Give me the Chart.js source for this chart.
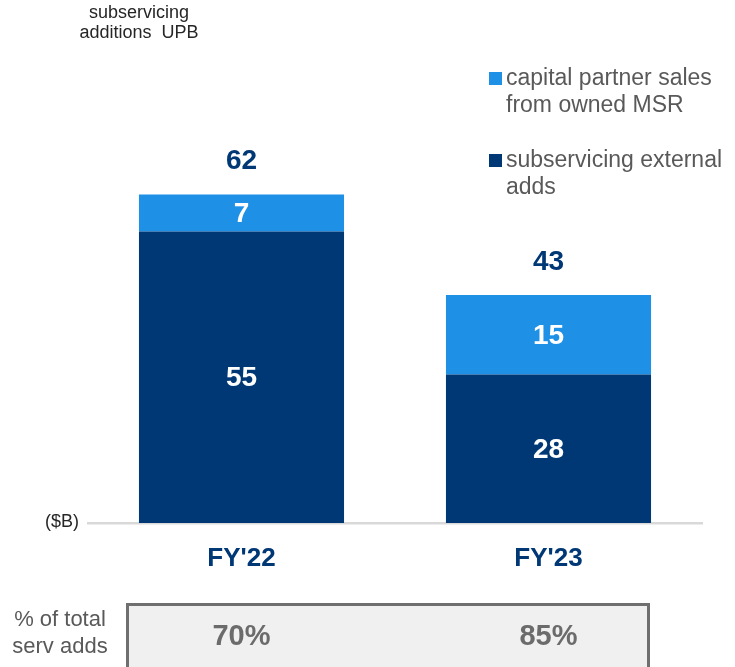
<!DOCTYPE html>
<html>
<head>
<meta charset="utf-8">
<script src="https://cdn.jsdelivr.net/npm/chart.js@4/dist/chart.umd.min.js"></script>
<style>
    html, body { margin: 0; padding: 0; background: #ffffff; }
    #chart-wrap { width: 735px; height: 667px; }
</style>
</head>
<body>
<div id="chart-wrap"><canvas id="upb-chart" width="735" height="667"></canvas></div>
<script>
const categories = ["FY'22", "FY'23"];
const externalAdds = [55, 28];
const capitalPartnerSales = [7, 15];
const totals = [62, 43];
const shareOfTotal = ['70%', '85%'];

const NAVY = '#003876';
const LIGHT_BLUE = '#1e91e6';
const FONT = '"Liberation Sans", Arial, sans-serif';

// Legend entries are listed top-down in reverse of the stack order
const legendItems = [
    { lines: ['capital partner sales', 'from owned MSR'], color: LIGHT_BLUE },
    { lines: ['subservicing external', 'adds'], color: NAVY }
];

const annotations = {
    id: 'annotations',
    beforeDraw(chart) {
        const ctx = chart.ctx;
        ctx.save();
        // bottom summary box
        ctx.fillStyle = '#f0f0f0';
        ctx.fillRect(127, 604, 522, 70);
        ctx.strokeStyle = '#6f6f6f';
        ctx.lineWidth = 3;
        ctx.strokeRect(127.5, 604.5, 521, 70);
        ctx.restore();
    },
    afterDraw(chart) {
        const ctx = chart.ctx;
        const x = chart.scales.x;
        const y = chart.scales.y;
        ctx.save();
        ctx.textAlign = 'center';
        ctx.textBaseline = 'middle';

        // title
        ctx.fillStyle = '#262626';
        ctx.font = '18px ' + FONT;
        ctx.fillText('subservicing', 139, 13);
        ctx.fillText('additions  UPB', 139, 33);

        // unit label at the baseline
        ctx.textAlign = 'right';
        ctx.font = '18px ' + FONT;
        ctx.fillText('($B)', 79, 522);

        // segment values
        ctx.textAlign = 'center';
        ctx.font = 'bold 28px ' + FONT;
        ctx.fillStyle = '#ffffff';
        chart.data.datasets.forEach((ds, di) => {
            const meta = chart.getDatasetMeta(di);
            meta.data.forEach((bar, i) => {
                const mid = (bar.y + bar.base) / 2;
                ctx.fillText(String(ds.data[i]), bar.x, mid + 1);
            });
        });

        // totals above bars
        ctx.fillStyle = NAVY;
        totals.forEach((t, i) => {
            ctx.fillText(String(t), x.getPixelForValue(i), y.getPixelForValue(t) - 33);
        });

        // legend
        ctx.textAlign = 'left';
        ctx.font = '23px ' + FONT;
        legendItems.forEach((item, k) => {
            const top = 78 + k * 82;
            ctx.fillStyle = item.color;
            ctx.fillRect(489, top - 6, 13, 13);
            ctx.fillStyle = '#595959';
            item.lines.forEach((line, j) => {
                ctx.fillText(line, 506, top + 1 + j * 27);
            });
        });

        // summary row
        ctx.textAlign = 'center';
        ctx.fillStyle = '#595959';
        ctx.font = '22px ' + FONT;
        ctx.fillText('% of total', 60, 620);
        ctx.fillText('serv adds', 60, 647);
        ctx.fillStyle = '#6b6b6b';
        ctx.font = 'bold 29px ' + FONT;
        shareOfTotal.forEach((s, i) => {
            ctx.fillText(s, x.getPixelForValue(i), 637);
        });
        ctx.restore();
    }
};

new Chart(document.getElementById('upb-chart').getContext('2d'), {
    type: 'bar',
    data: {
        labels: categories,
        datasets: [{
            label: 'subservicing external adds',
            data: externalAdds,
            backgroundColor: NAVY,
            categoryPercentage: 1,
            barPercentage: 0.668
        }, {
            label: 'capital partner sales from owned MSR',
            data: capitalPartnerSales,
            backgroundColor: LIGHT_BLUE,
            categoryPercentage: 1,
            barPercentage: 0.668
        }]
    },
    options: {
        responsive: false,
        devicePixelRatio: 1,
        animation: false,
        layout: { padding: { left: 88, right: 33, top: 99, bottom: 94 } },
        plugins: {
            legend: { display: false },
            tooltip: { enabled: false }
        },
        scales: {
            x: {
                stacked: true,
                grid: { display: false, drawTicks: false },
                border: { color: '#d9d9d9', width: 2.5 },
                ticks: {
                    color: NAVY,
                    font: { family: FONT, size: 26, weight: 'bold' },
                    padding: 20
                },
                afterFit(scale) { scale.height = 50; }
            },
            y: {
                stacked: true,
                display: false,
                min: 0,
                max: 80
            }
        }
    },
    plugins: [annotations]
});
</script>
</body>
</html>
